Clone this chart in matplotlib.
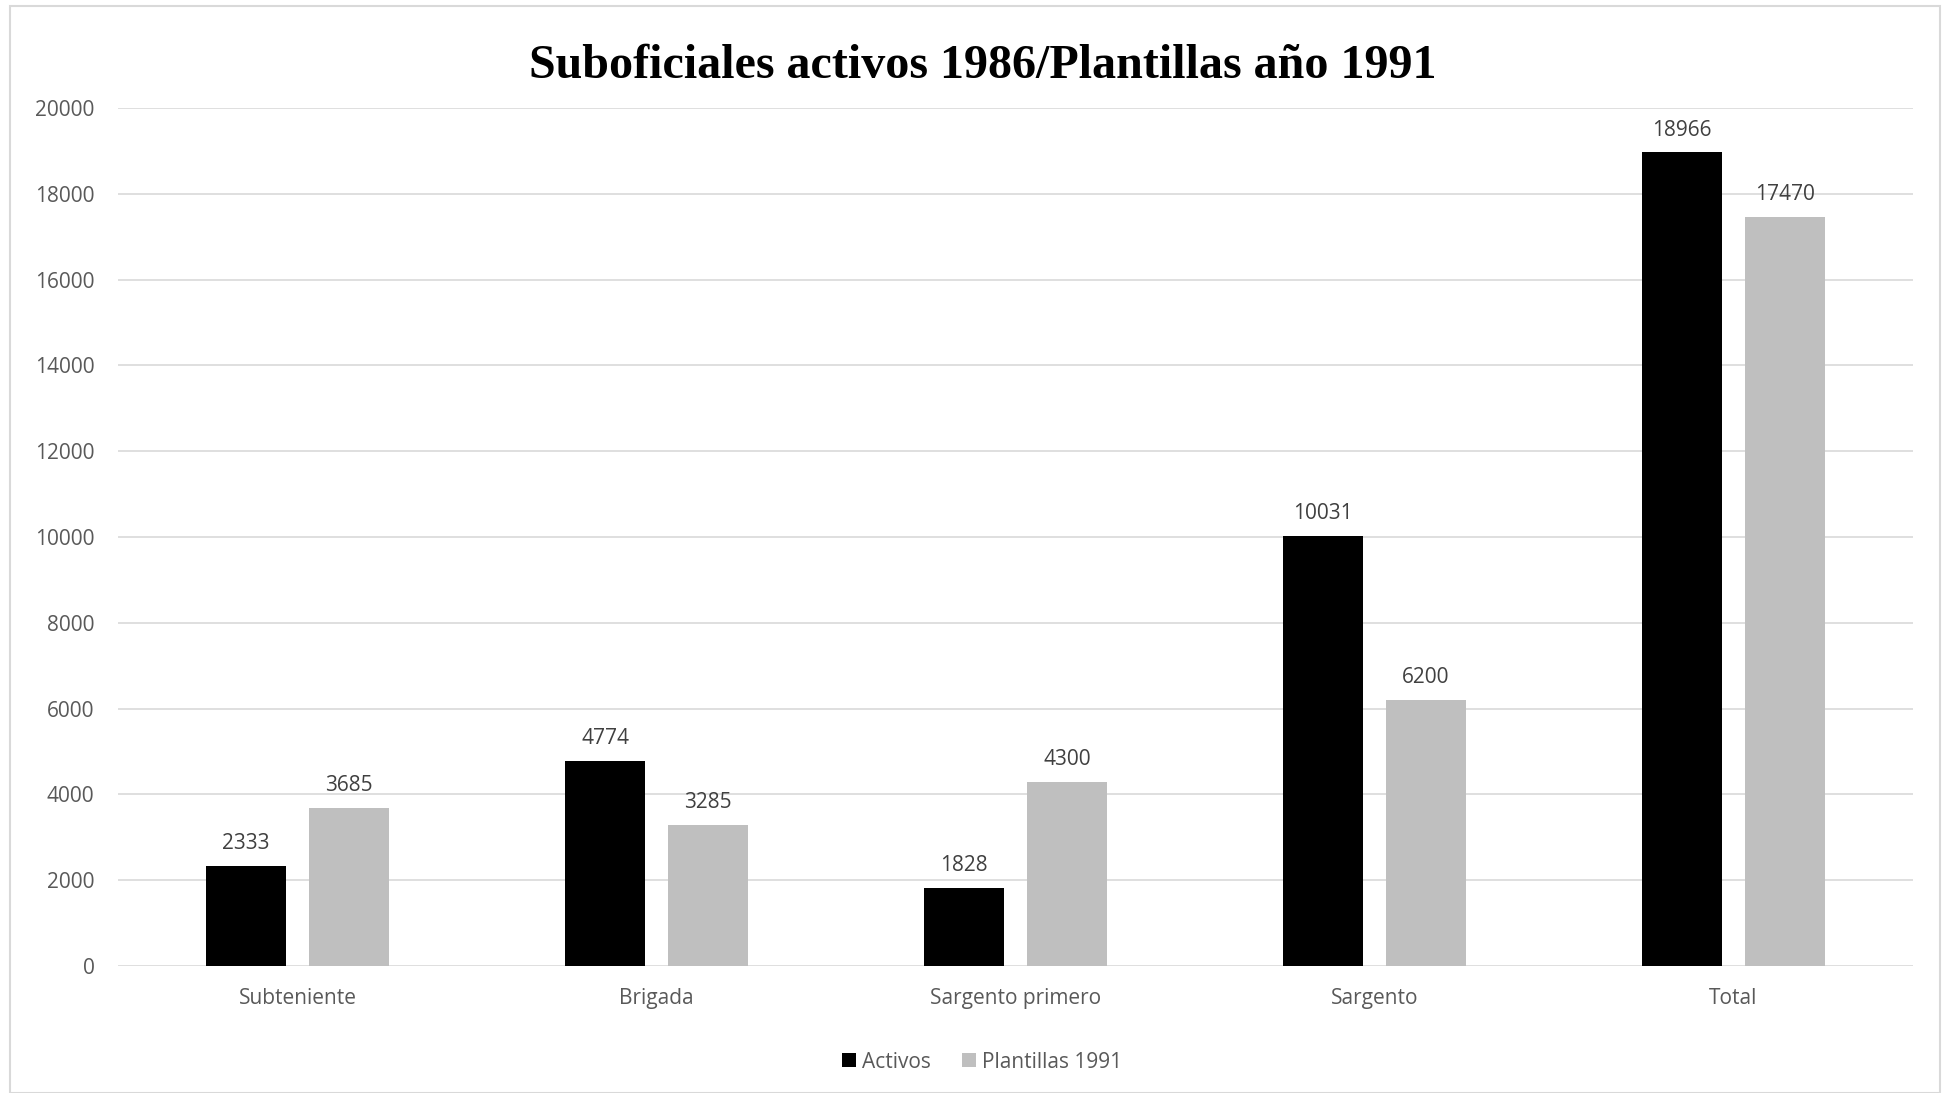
import matplotlib
matplotlib.use("Agg")
import matplotlib.pyplot as plt
from matplotlib.patches import Rectangle
import numpy as np

categories = ["Subteniente", "Brigada", "Sargento primero", "Sargento", "Total"]
activos = [2333, 4774, 1828, 10031, 18966]
plantillas = [3685, 3285, 4300, 6200, 17470]
series_names = ["Activos", "Plantillas 1991"]
yticks = list(range(0, 20001, 2000))
title = "Suboficiales activos 1986/Plantillas año 1991"

W, H = 1944, 1093
fig = plt.figure(figsize=(W / 100, H / 100), dpi=100)
fig.patch.set_facecolor("white")

# outer border
fig.patches.append(Rectangle((10 / W, 0.0), (1940 - 10) / W, 1 - 6 / H,
                             transform=fig.transFigure, fill=False,
                             edgecolor="#d9d9d9", linewidth=1.5))

left, right = 118 / W, 1913 / W
top, bottom = 1 - 108 / H, 1 - 966 / H
ax = fig.add_axes([left, bottom, right - left, top - bottom])

x = np.arange(len(categories))
bw = 0.2245
off = 0.1434
b1 = ax.bar(x - off, activos, bw, color="black", label=series_names[0])
b2 = ax.bar(x + off, plantillas, bw, color="#bfbfbf", label=series_names[1])

font = "Open Sans"
fs = 15
for bars, vals in ((b1, activos), (b2, plantillas)):
    for r, v in zip(bars, vals):
        ax.annotate(f"{v}", (r.get_x() + r.get_width() / 2, v),
                    xytext=(0, 8.5), textcoords="offset points",
                    ha="center", va="bottom", fontsize=fs,
                    color="#404040", family=font)

ax.set_xlim(-0.5, 4.5)
ax.set_ylim(0, 20000)
ax.set_yticks(yticks)
ax.set_yticklabels([str(t) for t in yticks], fontsize=fs, color="#595959", family=font)
ax.set_xticks(x)
ax.set_xticklabels(categories, fontsize=fs, color="#595959", family=font)
ax.tick_params(axis="both", length=0)
ax.tick_params(axis="y", pad=17)
ax.tick_params(axis="x", pad=16)
ax.grid(axis="y", color="#d9d9d9", linewidth=1.2)
ax.set_axisbelow(True)
for s in ax.spines.values():
    s.set_visible(False)

fig.text(983 / W, 1 - 66 / H, title, ha="center", va="center",
         fontsize=34.6, fontweight="bold", family="Liberation Serif")

leg = fig.legend(handles=[b1, b2], labels=series_names, loc="center",
                 bbox_to_anchor=(982 / W, 1 - 1062 / H), ncol=2, frameon=False,
                 prop={"family": font, "size": fs}, handlelength=0.65,
                 handleheight=0.65, handletextpad=0.3, columnspacing=1.5)
for t in leg.get_texts():
    t.set_color("#595959")

fig.savefig("out.png", dpi=100)
